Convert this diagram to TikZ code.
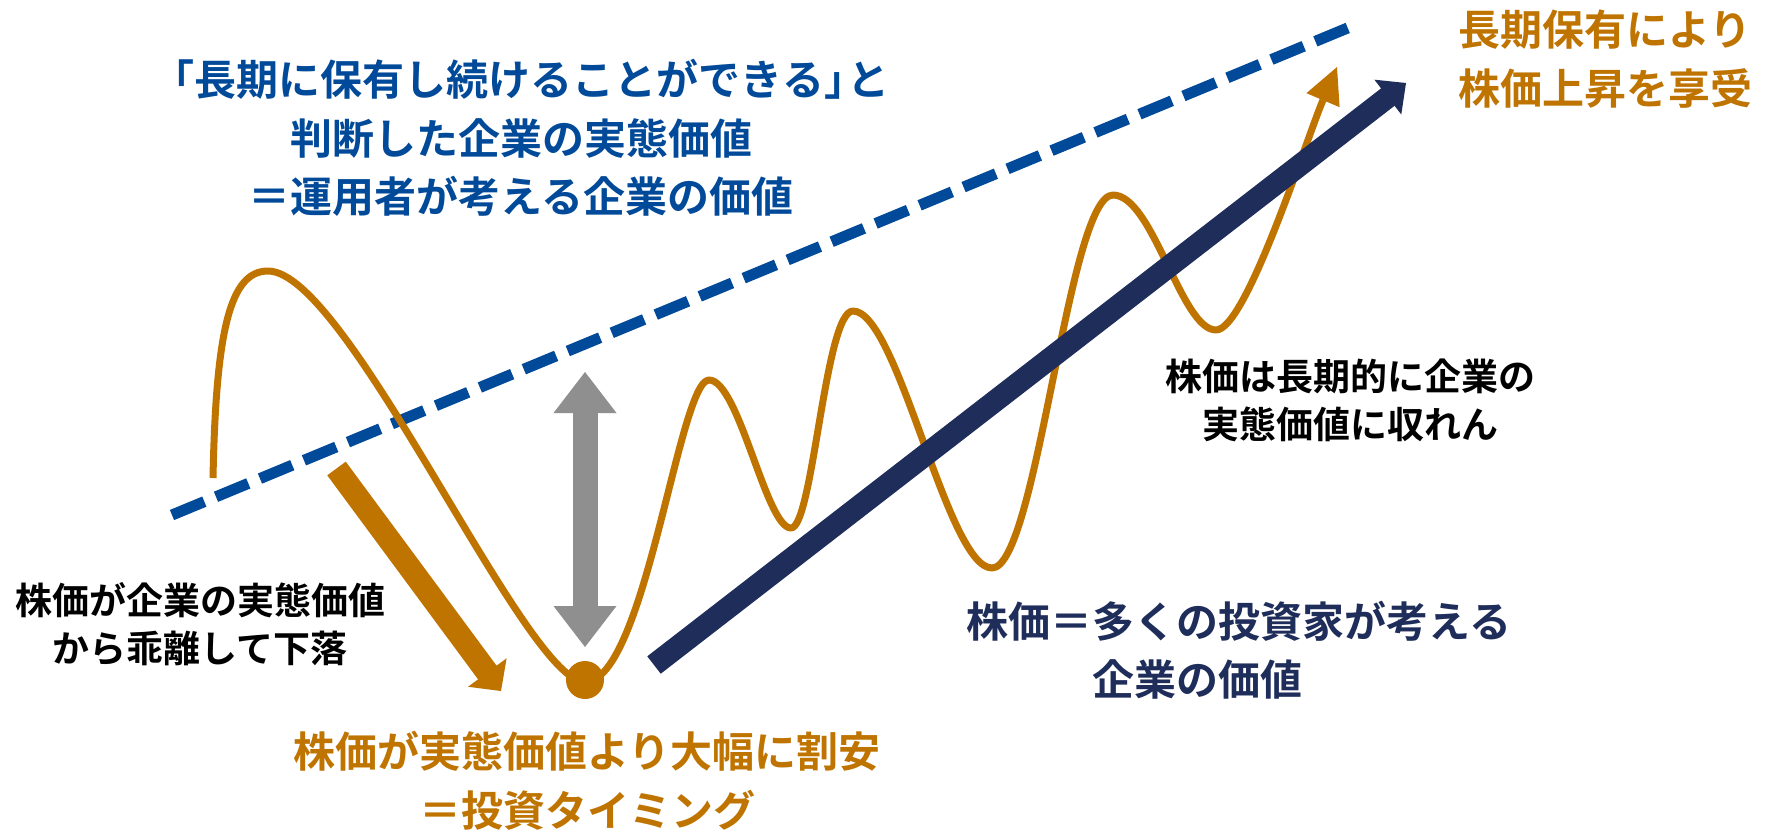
\documentclass[tikz,border=0pt]{standalone}
\usepackage{fontspec}
\newfontfamily\jp{Noto Sans CJK JP}[BoldFont={Noto Sans CJK JP Bold}]
\usetikzlibrary{calc}
\definecolor{cOrange}{RGB}{192,116,0}
\definecolor{cBlue}{RGB}{0,74,153}
\definecolor{cNavy}{RGB}{31,45,90}
\definecolor{cGray}{RGB}{143,143,143}
\newcommand{\headpoly}[5]{% tip, toward, length, half width, colour
  \coordinate (#1b) at ($(#1)!#3!(#2)$);
  \fill[#5] (#1) -- ($(#1b)!#4!90:(#1)$) -- ($(#1b)!#4!-90:(#1)$) -- cycle;
}
\begin{document}
\begin{tikzpicture}[x=0.5pt,y=-0.5pt,
  lbl/.style={inner sep=0pt, align=center},
  big/.style={lbl, font=\jp\bfseries\fontsize{21pt}{29.25pt}\selectfont},
  small/.style={lbl, font=\jp\bfseries\fontsize{18.5pt}{24pt}\selectfont},
  valueline/.style={cBlue, line width=5.5pt, dash pattern=on 17.5pt off 6.3pt},
  pricecurve/.style={cOrange, line width=3.5pt, line join=round},
  shaft/.style={line cap=butt}
]
\fill[white] (0,0) rectangle (1776,831);
\useasboundingbox (0,0) rectangle (1776,831);

% dashed value line
\coordinate (v1) at (172,515);
\coordinate (v2) at (1350,27);
\draw[valueline] (v1) -- (v2);

% price curve
\coordinate (ct) at (1337,67);
\coordinate (cd) at (1318,112);
\draw[pricecurve] (213,478)
  .. controls (216,330) and (230,271) .. (268,271)
  .. controls (348,271) and (525,682) .. (585,682)
  .. controls (645,682) and (679,380) .. (709,380)
  .. controls (739,380) and (766,528) .. (791,528)
  .. controls (813,528) and (825,311) .. (853,311)
  .. controls (898,311) and (947,568) .. (992,568)
  .. controls (1037,568) and (1068,195) .. (1113,195)
  .. controls (1153,195) and (1181,330) .. (1216,330)
  .. controls (1246,330) and (1306,140) .. (1323,100);
\headpoly{ct}{cd}{18pt}{9pt}{cOrange}

% gray double arrow
\coordinate (g1) at (585,372);
\coordinate (g2) at (585,647);
\headpoly{g1}{g2}{20.5pt}{15.75pt}{cGray}
\headpoly{g2}{g1}{20.5pt}{15.75pt}{cGray}
\draw[shaft, cGray, line width=12.5pt] ($(g1b)!0.6pt!(g1)$) -- ($(g2b)!0.6pt!(g2)$);

% orange falling arrow
\coordinate (o1) at (336.5,468.5);
\coordinate (o2) at (501,691);
\headpoly{o2}{o1}{11.5pt}{12pt}{cOrange}
\draw[shaft, cOrange, line width=11.5pt] (o1) -- ($(o2b)!0.6pt!(o2)$);

% navy rising arrow
\coordinate (n1) at (654,665);
\coordinate (n2) at (1406,83);
\headpoly{n2}{n1}{11.5pt}{11pt}{cNavy}
\draw[shaft, cNavy, line width=11pt] (n1) -- ($(n2b)!0.6pt!(n2)$);

% bottom dot
\node[circle, fill=cOrange, minimum size=19pt, inner sep=0pt] (dot) at (585,680) {};

% texts
\node[big, text=cBlue] (title) at (521,138) {「長期に保有し続けることができる」\kern-0.45em と\\判断した企業の実態価値\\＝運用者が考える企業の価値};
\node[big, text=cOrange] (gain) at (1605,59) {長期保有により\\株価上昇を享受};
\node[small] (conv) at (1350,400) {株価は長期的に企業の\\実態価値に収れん};
\node[big, text=cNavy, align=left, anchor=west] (price) at (966,650) {株価＝多くの投資家が考える\\\hspace*{3em}企業の価値};
\node[small] (drop) at (200,624) {株価が企業の実態価値\\から乖離して下落};
\node[big, text=cOrange] (cheap) at (587,781) {株価が実態価値より大幅に割安\\＝投資タイミング};
\end{tikzpicture}
\end{document}
